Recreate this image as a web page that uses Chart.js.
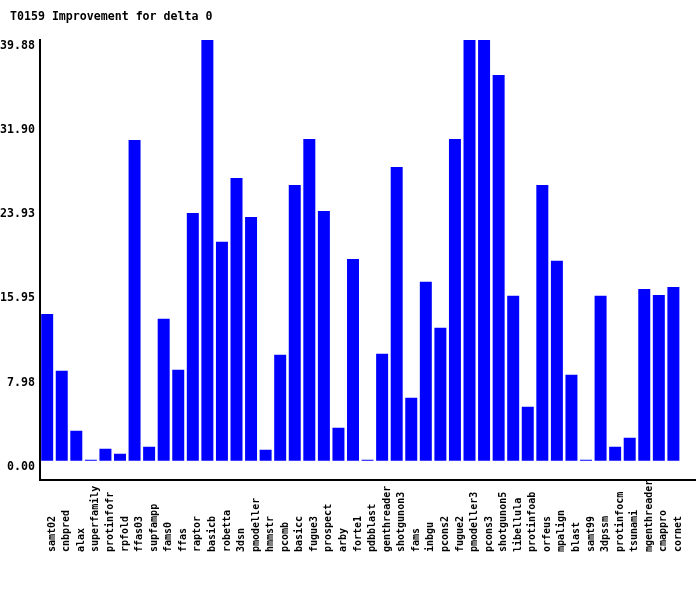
<!DOCTYPE html>
<html>
<head>
<meta charset="utf-8">
<title>T0159 Improvement for delta 0</title>
<script src="https://cdn.jsdelivr.net/npm/chart.js@4/dist/chart.umd.min.js"></script>
<style>
    body { margin: 0; background: #fff; }
    #wrap { width: 700px; height: 590px; }
</style>
</head>
<body>
<div id="wrap"><canvas id="improvementChart" width="700" height="590"></canvas></div>
<script>
const chartTitle = 'T0159 Improvement for delta 0';

const servers = [
    'samt02', 'cnbpred', 'alax', 'superfamily', 'protinfofr', 'rpfold', 'ffas03', 'supfampp',
    'fams0', 'ffas', 'raptor', 'basicb', 'robetta', '3dsn', 'pmodeller', 'hmmstr', 'pcomb',
    'basicc', 'fugue3', 'prospect', 'arby', 'forte1', 'pdbblast', 'genthreader', 'shotgunon3',
    'fams', 'inbgu', 'pcons2', 'fugue2', 'pmodeller3', 'pcons3', 'shotgunon5', 'libellula',
    'protinfoab', 'orfeus', 'mpalign', 'blast', 'samt99', '3dpssm', 'protinfocm', 'tsunami',
    'mgenthreader', 'cmappro', 'cornet'
];

const improvement = [
    13.92, 8.53, 2.84, 0.1, 1.14, 0.66, 30.41, 1.33,
    13.45, 8.62, 23.49, 39.88, 20.75, 26.81, 23.11, 1.04, 10.04,
    26.14, 30.50, 23.68, 3.13, 19.13, 0.1, 10.14, 27.85,
    5.97, 16.96, 12.60, 30.50, 39.88, 39.88, 36.56, 15.63,
    5.12, 26.14, 18.95, 8.15, 0.1, 15.63, 1.33, 2.18,
    16.29, 15.72, 16.48
];

const yTicks = [0, 7.976, 15.952, 23.928, 31.904, 39.88];

// one empty slot after the last server, the axis runs past the bars
const chartLabels = servers.concat(['']);

const monoFont = 'DejaVu Sans Mono';

// title is drawn at the far left, above the y tick labels
const titlePlugin = {
    id: 'leftTitle',
    afterDraw(chart) {
        const ctx = chart.ctx;
        ctx.save();
        ctx.font = 'bold 11.6px "' + monoFont + '"';
        ctx.fillStyle = '#000';
        ctx.textBaseline = 'middle';
        ctx.textAlign = 'left';
        ctx.fillText(chartTitle, 10, 17);
        ctx.restore();
    }
};

const ctx = document.getElementById('improvementChart').getContext('2d');

new Chart(ctx, {
    type: 'bar',
    data: {
        labels: chartLabels,
        datasets: [{
            data: improvement,
            backgroundColor: '#0000ff',
            borderWidth: 0,
            barPercentage: 0.823,
            categoryPercentage: 1,
            minBarLength: 1
        }]
    },
    options: {
        responsive: false,
        animation: false,
        layout: {
            padding: { left: -5, right: 4, top: 40, bottom: 38 }
        },
        scales: {
            x: {
                grid: { display: false, drawTicks: false },
                border: { display: true, color: '#000', width: 2 },
                ticks: {
                    autoSkip: false,
                    minRotation: 90,
                    maxRotation: 90,
                    padding: 0,
                    labelOffset: 5,
                    color: '#000',
                    font: { family: monoFont, size: 10, weight: 'bold' },
                    callback: function (value) {
                        return this.getLabelForValue(value).padEnd(12);
                    }
                }
            },
            y: {
                min: -1.8,
                max: 39.88,
                grid: { display: false, drawTicks: false },
                border: { display: true, color: '#000', width: 2 },
                afterBuildTicks: axis => {
                    axis.ticks = yTicks.map(v => ({ value: v }));
                },
                ticks: {
                    padding: 5,
                    labelOffset: 6,
                    color: '#000',
                    font: { family: monoFont, size: 11.6, weight: 'bold' },
                    callback: value => value.toFixed(2)
                }
            }
        },
        plugins: {
            legend: { display: false },
            title: { display: false },
            tooltip: { enabled: false }
        }
    },
    plugins: [titlePlugin]
});
</script>
</body>
</html>
